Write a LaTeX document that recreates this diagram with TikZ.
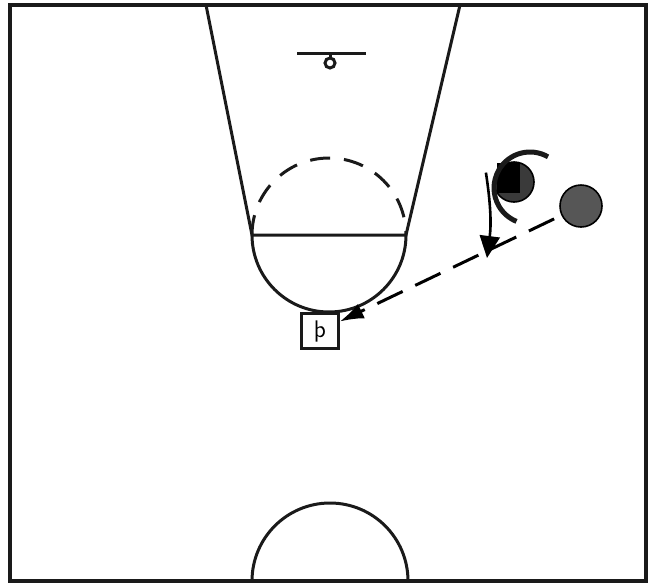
\documentclass[tikz,border=0pt]{standalone}
\usetikzlibrary{positioning,arrows.meta}
\definecolor{courtInk}{HTML}{1A1A1A}
\definecolor{dotDark}{HTML}{3A3A3A}
\definecolor{dotMid}{HTML}{565656}

\begin{document}
\begin{tikzpicture}[x=0.5pt, y=-0.5pt, >=Stealth,
          court/.style={draw=courtInk, line width=1.5pt},
          spot/.style={draw=courtInk, fill=white, line width=1.2pt, minimum width=18.5pt, minimum height=17.5pt, inner sep=0pt, font=\sffamily\large},
          dot/.style={circle, draw=black, line width=0.8pt, inner sep=0pt},
          pass/.style={-{Latex[length=12pt,width=8pt]}, line width=1.5pt, dash pattern=on 14pt off 7pt, shorten <=4pt},
          cut/.style={-{Triangle[length=11pt,width=10pt]}, line width=1.3pt}]
        \useasboundingbox (0,0) rectangle (653,584);
        \draw[line width=2pt, courtInk] (10,5) rectangle (646,581);
        % lane, free throw circle, basket
        \draw[court] (206,5) -- (252,235) -- (406,235) -- (460,5);
        \draw[court] (406,235) arc[start angle=0, end angle=180, radius=77];
        \draw[court, dash pattern=on 10pt off 7pt] (252,235) arc[start angle=180, end angle=360, radius=77];
        \draw[court] (297,53) -- (366,53);
        \draw[court] (330,53) -- (330,58);
        \draw[court] (330,63) circle[radius=5];
        \draw[court] (252,581) arc[start angle=180, end angle=360, radius=78];
        % players
        \node[spot] (p) at (320,331) {þ};
        \node[dot, fill=dotDark, minimum size=20pt] (o1) at (514,182) {};
        \node[fill=black, minimum width=11.5pt, minimum height=15pt, inner sep=0pt] (x1) at (508.5,178) {};
        \node[dot, fill=dotMid, minimum size=21pt] (o2) at (581,206) {};
        \coordinate (spin) at (530,188);
        \coordinate (cutEnd) at (487,258);
        \draw[line width=2.5pt, courtInk] ([shift={(-60:36)}]spin) arc[start angle=-60, end angle=-248, radius=36];
        \draw[cut] ([xshift=-4pt,yshift=2pt]o1.165) to[bend left=8] (cutEnd);
        \draw[pass] (o2) -- (p);
      \end{tikzpicture}
\end{document}
